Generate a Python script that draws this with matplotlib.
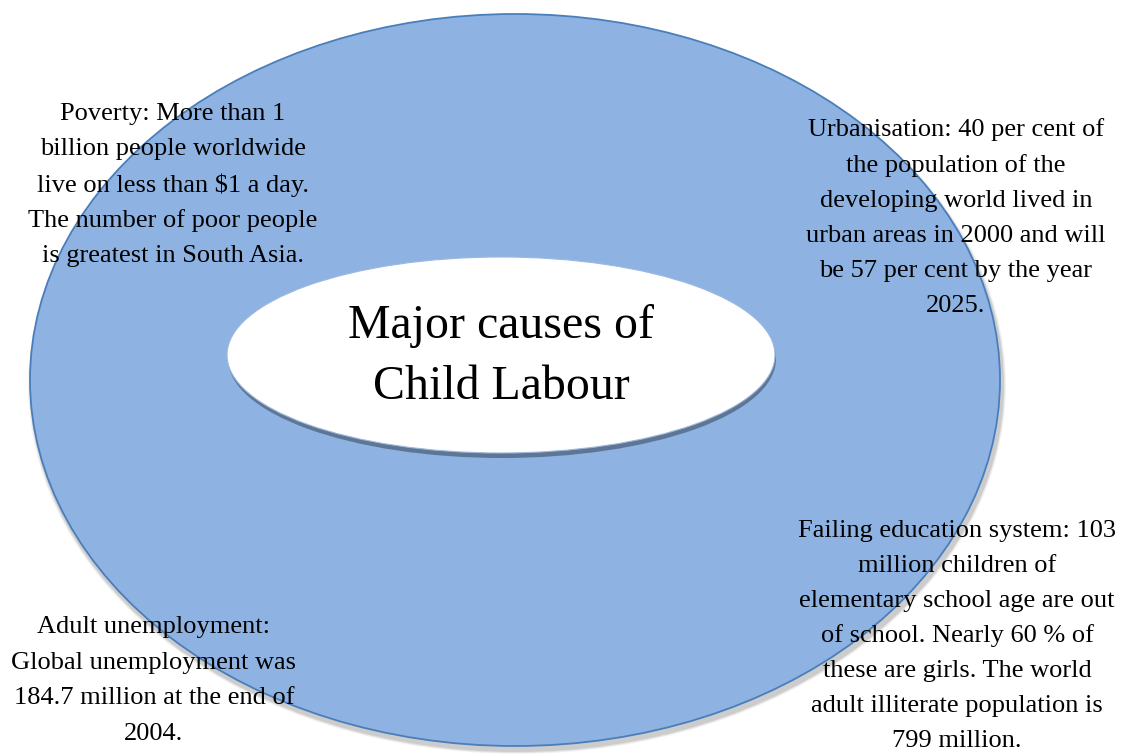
import matplotlib
matplotlib.use("Agg")
import matplotlib.pyplot as plt
from matplotlib.patches import Ellipse

# ---- content ----
title_lines = ["Major causes of", "Child Labour"]
poverty_lines = ["Poverty: More than 1", "billion people worldwide",
                 "live on less than $1 a day.", "The number of poor people",
                 "is greatest in South Asia."]
urban_lines = ["Urbanisation: 40 per cent of", "the population of the",
               "developing world lived in", "urban areas in 2000 and will",
               "be 57 per cent by the year", "2025."]
unemp_lines = ["Adult unemployment:", "Global unemployment was",
               "184.7 million at the end of", "2004."]
edu_lines = ["Failing education system: 103", "million children of",
             "elementary school age are out", "of school. Nearly 60 % of",
             "these are girls. The world", "adult illiterate population is",
             "799 million."]

W, H = 1122, 755
fig = plt.figure(figsize=(W / 100, H / 100), dpi=100)
ax = fig.add_axes([0, 0, 1, 1])
ax.set_xlim(0, W)
ax.set_ylim(H, 0)
ax.axis("off")

FILL = "#8eb3e2"
EDGE = "#4a7ebb"

# outer ellipse shadow (soft)
for a, c in [(0.10, 3), (0.18, 2), (0.30, 1)]:
    ax.add_patch(Ellipse((517, 385), 972 + 2 * c, 732 + 2 * c, facecolor="#9a9a9a",
                         edgecolor="none", alpha=a, zorder=1))
ax.add_patch(Ellipse((515, 380), 970, 732, facecolor=FILL, edgecolor=EDGE,
                     linewidth=1.3, zorder=2))

# inner ellipse with dark bottom bevel
ax.add_patch(Ellipse((502, 359), 548, 198, facecolor="#5d7696",
                     edgecolor="none", zorder=3))
ax.add_patch(Ellipse((501, 355), 548, 196, facecolor="white",
                     edgecolor="#9db8dc", linewidth=0.8, zorder=4))

serif = ["Liberation Serif", "DejaVu Serif"]

def block(lines, x, y0, dy, size):
    for i, t in enumerate(lines):
        ax.text(x, y0 + i * dy, t, ha="center", va="center", fontsize=size,
                family=serif, color="black", zorder=6)

block(title_lines, 501, 326, 61, 34.5)
block(poverty_lines, 173, 114, 35.5, 19)
block(urban_lines, 956, 130, 35.3, 19)
block(unemp_lines, 154, 627, 35.5, 19)
block(edu_lines, 957, 531, 35.0, 19)

fig.savefig("out.png", dpi=100)
